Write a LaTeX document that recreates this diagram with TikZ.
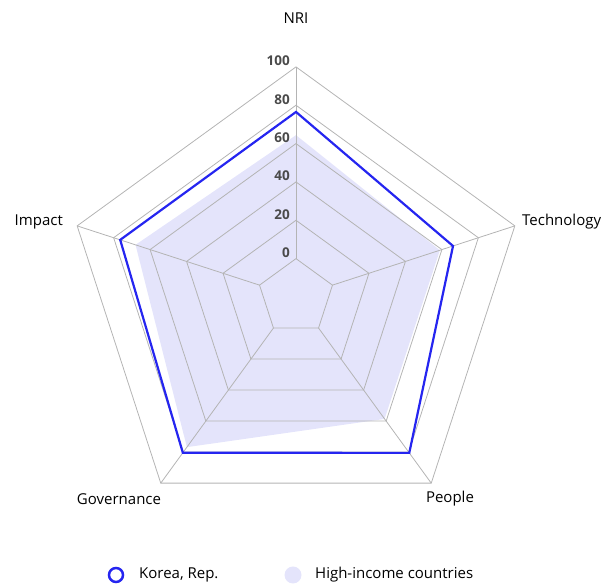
\documentclass[tikz,border=0pt]{standalone}
\usepackage{fontspec}
\setmainfont{Open Sans}
\usetikzlibrary{calc}
\definecolor{gridc}{HTML}{B4B4B4}
\definecolor{korea}{HTML}{2525F0}
\definecolor{hinc}{HTML}{E4E4FB}
\definecolor{tickc}{HTML}{4A4A4A}
\begin{document}
\begin{tikzpicture}[x=1pt,y=1pt,
  grid/.style={draw=gridc,line width=0.8pt},
  korealine/.style={draw=korea,line width=2.2pt,line join=miter},
  hincfill/.style={fill=hinc,draw=none},
  axislabel/.style={font=\fontsize{15}{17}\selectfont,text=black,inner sep=0pt},
  ticklabel/.style={font=\fontsize{13.5}{15}\selectfont\bfseries,text=tickc,inner sep=0pt,anchor=east},
  legendtext/.style={font=\fontsize{15}{17}\selectfont,text=black,inner sep=0pt,anchor=west}]
\useasboundingbox (0,0) rectangle (606,585);
\coordinate (O) at (296,288);
\def\u{38.35}
% high-income fill
\fill[hincfill] ($(O)+(90:{\u*(1+64.4/20)})$) coordinate (h1)
  -- ($(O)+(18:{\u*(1+58.9/20)})$) coordinate (h2)
  -- ($(O)+(-54:{\u*(1+58.6/20)})$) coordinate (h3)
  -- ($(O)+(234:{\u*(1+76.8/20)})$) coordinate (h4)
  -- ($(O)+(162:{\u*(1+68/20)})$) coordinate (h5) -- cycle;
% grid
\foreach \k in {1,...,6}{
  \draw[grid] ($(O)+(90:\k*\u)$) -- ($(O)+(18:\k*\u)$) -- ($(O)+(-54:\k*\u)$) -- ($(O)+(234:\k*\u)$) -- ($(O)+(162:\k*\u)$) -- cycle;
}
\foreach \a in {90,18,-54,234,162}{
  \draw[grid] ($(O)+(\a:\u)$) -- ($(O)+(\a:6*\u)$);
}
% korea line
\draw[korealine] ($(O)+(90:{\u*(1+76.5/20)})$) coordinate (k1)
  -- ($(O)+(18:{\u*(1+66.1/20)})$) coordinate (k2)
  -- ($(O)+(-54:{\u*(1+80.5/20)})$) coordinate (k3)
  -- ($(O)+(234:{\u*(1+80.4/20)})$) coordinate (k4)
  -- ($(O)+(162:{\u*(1+76.4/20)})$) coordinate (k5) -- cycle;
% tick labels
\foreach \v [count=\k] in {0,20,40,60,80,100}{
  \node[ticklabel] (t\k) at ($(O)+(90:\k*\u)+(-6,6)$) {\v};
}
% axis labels
\node[axislabel] (nri) at (296,567) {NRI};
\node[axislabel,anchor=west] (tech) at (522,363) {Technology};
\node[axislabel] (people) at (450,86) {People};
\node[axislabel] (gov) at (119,86) {Governance};
\node[axislabel,anchor=east] (impact) at (63,363) {Impact};
% legend
\draw[draw=korea,line width=2.5pt] (116,10) circle (7);
\node[legendtext] (lk) at (139,10) {Korea, Rep.};
\fill[hinc] (293,10) circle (8.5);
\node[legendtext] (lh) at (315,10) {High-income countries};
\end{tikzpicture}
\end{document}
